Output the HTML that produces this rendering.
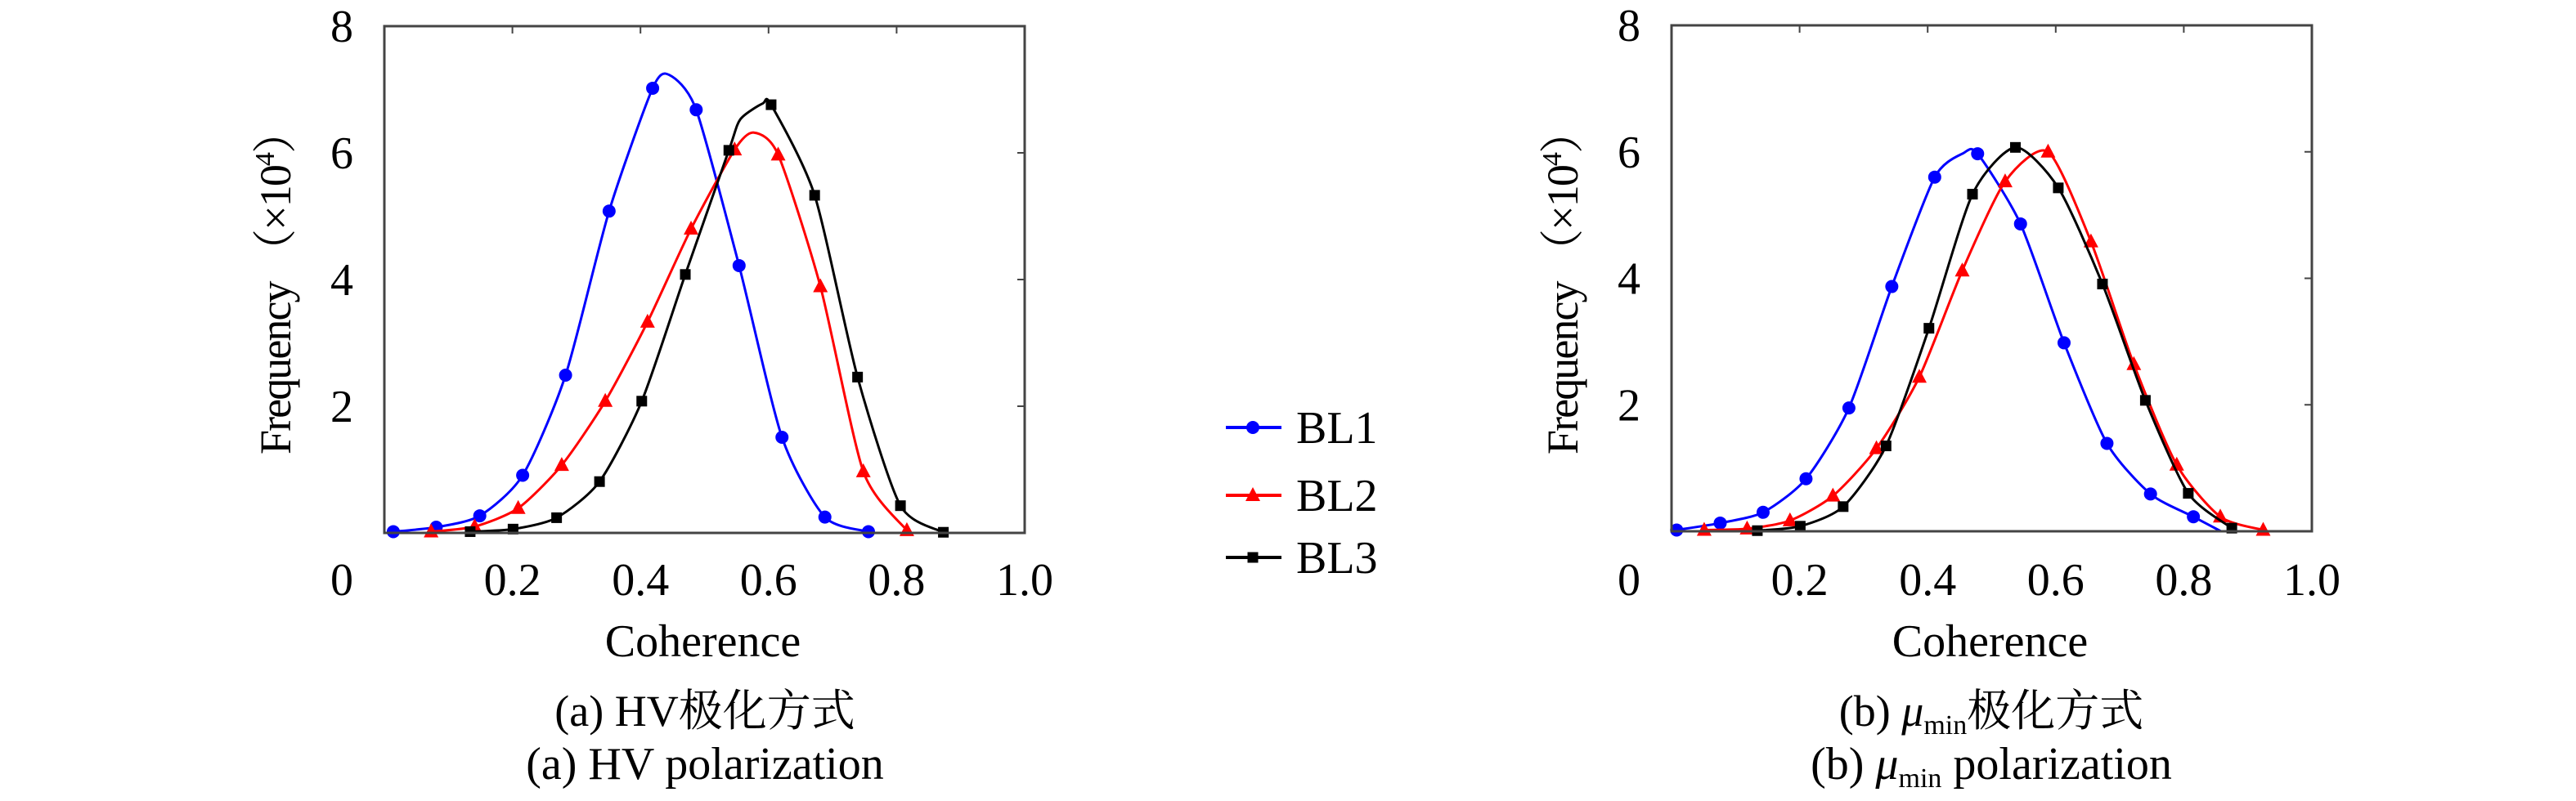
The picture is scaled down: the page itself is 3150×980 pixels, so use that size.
<!DOCTYPE html>
<html><head><meta charset="utf-8"><style>
html,body{margin:0;padding:0;background:#fff;}
svg{display:block;}
svg text{font-family:"Liberation Serif","Noto Serif CJK SC",serif;}
</style></head><body>
<svg id="chart" width="3150" height="980" viewBox="0 0 3150 980" xmlns="http://www.w3.org/2000/svg">
<g id="legend"></g>
</svg>
<script>
// ---- data ----
const xTicks = [0.2, 0.4, 0.6, 0.8];
const xTickLabels = ["0", "0.2", "0.4", "0.6", "0.8", "1.0"];
const yTicks = [2, 4, 6];
const yTickLabels = ["8", "6", "4", "2"];
const seriesNames = ["BL1", "BL2", "BL3"];
// Panel A (HV)
const aBL1x = [0.014,0.081,0.149,0.216,0.283,0.351,0.419,0.445,0.487,0.554,0.621,0.688,0.756];
const aBL1y = [0.02,0.09,0.27,0.91,2.49,5.08,7.02,7.23,6.68,4.22,1.51,0.25,0.02];
const aBL2x = [0.073,0.141,0.209,0.277,0.345,0.411,0.479,0.547,0.577,0.615,0.681,0.748,0.816];
const aBL2y = [0.02,0.10,0.39,1.07,2.08,3.33,4.80,6.05,6.32,5.97,3.89,0.97,0.04];
const aBL3x = [0.134,0.201,0.269,0.336,0.402,0.470,0.538,0.556,0.591,0.604,0.672,0.739,0.806,0.873];
const aBL3y = [0.02,0.06,0.24,0.81,2.08,4.08,6.04,6.53,6.78,6.76,5.33,2.46,0.43,0.01];
const aBL1m = [1,1,1,1,1,1,1,0,1,1,1,1,1];
const aBL2m = [1,1,1,1,1,1,1,1,0,1,1,1,1];
const aBL3m = [1,1,1,1,1,1,1,0,0,1,1,1,1,1];
// Panel B (mu_min)
const bBL1x = [0.008,0.076,0.143,0.210,0.277,0.344,0.411,0.456,0.478,0.545,0.613,0.680,0.748,0.815,0.858];
const bBL1y = [0.02,0.13,0.30,0.83,1.95,3.87,5.60,5.98,5.97,4.86,2.98,1.39,0.59,0.23,0.0];
const bBL1m = [1,1,1,1,1,1,1,0,1,1,1,1,1,1,0];
const bBL2x = [0.051,0.118,0.185,0.252,0.320,0.387,0.454,0.521,0.588,0.655,0.722,0.789,0.857,0.924];
const bBL2y = [0.02,0.04,0.17,0.56,1.31,2.44,4.12,5.53,6.00,4.58,2.64,1.05,0.23,0.02];
const bBL2m = [1,1,1,1,1,1,1,1,1,1,1,1,1,1];
const bBL3x = [0.134,0.201,0.268,0.335,0.402,0.470,0.537,0.604,0.673,0.740,0.807,0.875];
const bBL3y = [0.01,0.08,0.39,1.35,3.21,5.33,6.07,5.43,3.91,2.07,0.60,0.05];
const bBL3m = [1,1,1,1,1,1,1,1,1,1,1,1];

const NS = "http://www.w3.org/2000/svg";
const FONT = '"Liberation Serif", "Noto Serif CJK SC", serif';
const svg = document.getElementById("chart");
const colors = ["#0000ff", "#ff0000", "#000000"];
function mk(tag, attrs, parent) {
  const e = document.createElementNS(NS, tag);
  for (const k in attrs) e.setAttribute(k, attrs[k]);
  if (tag === "text") e.setAttribute("font-family", FONT);
  (parent || svg).appendChild(e);
  return e;
}
function smoothPath(pts) {
  let d = "M" + pts[0][0] + "," + pts[0][1];
  const t = 0.12;
  for (let i = 0; i < pts.length - 1; i++) {
    const p0 = pts[Math.max(0, i - 1)], p1 = pts[i], p2 = pts[i + 1], p3 = pts[Math.min(pts.length - 1, i + 2)];
    const c1x = p1[0] + (p2[0] - p0[0]) * t, c1y = p1[1] + (p2[1] - p0[1]) * t;
    const c2x = p2[0] - (p3[0] - p1[0]) * t, c2y = p2[1] - (p3[1] - p1[1]) * t;
    d += " C" + c1x + "," + c1y + " " + c2x + "," + c2y + " " + p2[0] + "," + p2[1];
  }
  return d;
}
function marker(kind, x, y, color, parent) {
  let m;
  if (kind === 0) m = mk("circle", {cx: x, cy: y, r: 8, fill: color}, parent);
  else if (kind === 1) m = mk("polygon", {points: (x) + "," + (y - 10) + " " + (x - 9) + "," + (y + 7) + " " + (x + 9) + "," + (y + 7), fill: color}, parent);
  else m = mk("rect", {x: x - 6.5, y: y - 6.5, width: 13, height: 13, fill: color}, parent);
  return m;
}
function panel(id, L, R, T, B, labelX, titleX, capX, series, cap1, cap2) {
  const g = mk("g", {});
  
  
  const sx = v => L + v * (R - L);
  const sy = v => B - v / 8 * (B - T);
  series.forEach((s, i) => {
    const sg = mk("g", {}, g);
    
    
    const pts = s.x.map((v, j) => [sx(v), sy(s.y[j])]);
    const p = mk("path", {d: smoothPath(pts), fill: "none", stroke: colors[i], "stroke-width": 3, "stroke-linejoin": "round"}, sg);
    
    
    pts.forEach((pt, j) => {
      if (!s.m[j]) return;
      const m = marker(i, pt[0], pt[1], colors[i], sg);
      
      
    });
  });
  const fr = mk("rect", {x: L, y: T, width: R - L, height: B - T, fill: "none", stroke: "#444", "stroke-width": 3}, g);
  
  
  xTicks.forEach(v => {
    const t = mk("line", {x1: sx(v), x2: sx(v), y1: T, y2: T + 9, stroke: "#444", "stroke-width": 2}, g);
    
    
  });
  yTicks.forEach(v => {
    const t = mk("line", {x1: R, x2: R - 9, y1: sy(v), y2: sy(v), stroke: "#444", "stroke-width": 2}, g);
    
    
  });
  xTickLabels.forEach((lab, i) => {
    const xx = i === 0 ? labelX : sx(i * 0.2);
    const t = mk("text", {x: xx, y: 728, "font-size": 56, "text-anchor": "middle"}, g);
    t.textContent = lab;
    
    
  });
  yTickLabels.forEach((lab, i) => {
    const v = 8 - i * 2;
    const t = mk("text", {x: labelX, y: sy(v) + 19, "font-size": 56, "text-anchor": "middle"}, g);
    t.textContent = lab;
    
    
  });
  const xt = mk("text", {x: (L + R) / 2 - 2, y: 803, "font-size": 56, "text-anchor": "middle"}, g);
  xt.textContent = "Coherence";
  
  
  const yt = mk("text", {x: 0, y: 0, "font-size": 54, "text-anchor": "middle", transform: "translate(" + (titleX + 18) + ",345) rotate(-90)", textLength: 422, lengthAdjust: "spacing"}, g);
  yt.innerHTML = 'Frequency （×10<tspan dy="-20" font-size="34">4</tspan><tspan dy="20">）</tspan>';
  
  
  const c1 = mk("text", {x: capX, y: 888, "font-size": 54, "text-anchor": "middle"}, g);
  c1.innerHTML = cap1;
  
  
  const c2 = mk("text", {x: capX, y: 953, "font-size": 56, "text-anchor": "middle"}, g);
  c2.innerHTML = cap2;
  
  
}
panel("panel-hv", 470, 1253, 32, 652, 418, 337, 862,
  [{x: aBL1x, y: aBL1y, m: aBL1m}, {x: aBL2x, y: aBL2y, m: aBL2m}, {x: aBL3x, y: aBL3y, m: aBL3m}],
  "(a) HV极化方式", "(a) HV polarization");
panel("panel-mumin", 2044, 2827, 31, 650, 1992, 1911, 2435,
  [{x: bBL1x, y: bBL1y, m: bBL1m}, {x: bBL2x, y: bBL2y, m: bBL2m}, {x: bBL3x, y: bBL3y, m: bBL3m}],
  '(b) <tspan font-style="italic">μ</tspan><tspan font-size="34" dy="10">min</tspan><tspan dy="-10">极化方式</tspan>',
  '(b) <tspan font-style="italic">μ</tspan><tspan font-size="34" dy="10">min</tspan><tspan dy="-10"> polarization</tspan>');
const lg = document.getElementById("legend");
const legY = [523, 606, 682];
seriesNames.forEach((n, i) => {
  const eg = mk("g", {}, lg);
  
  
  mk("line", {x1: 1499, x2: 1567, y1: legY[i], y2: legY[i], stroke: colors[i], "stroke-width": 4}, eg);
  marker(i, 1532, legY[i], colors[i], eg);
  const t = mk("text", {x: 1585, y: legY[i] + 19, "font-size": 56}, eg);
  t.textContent = n;
});
</script>
</body></html>
